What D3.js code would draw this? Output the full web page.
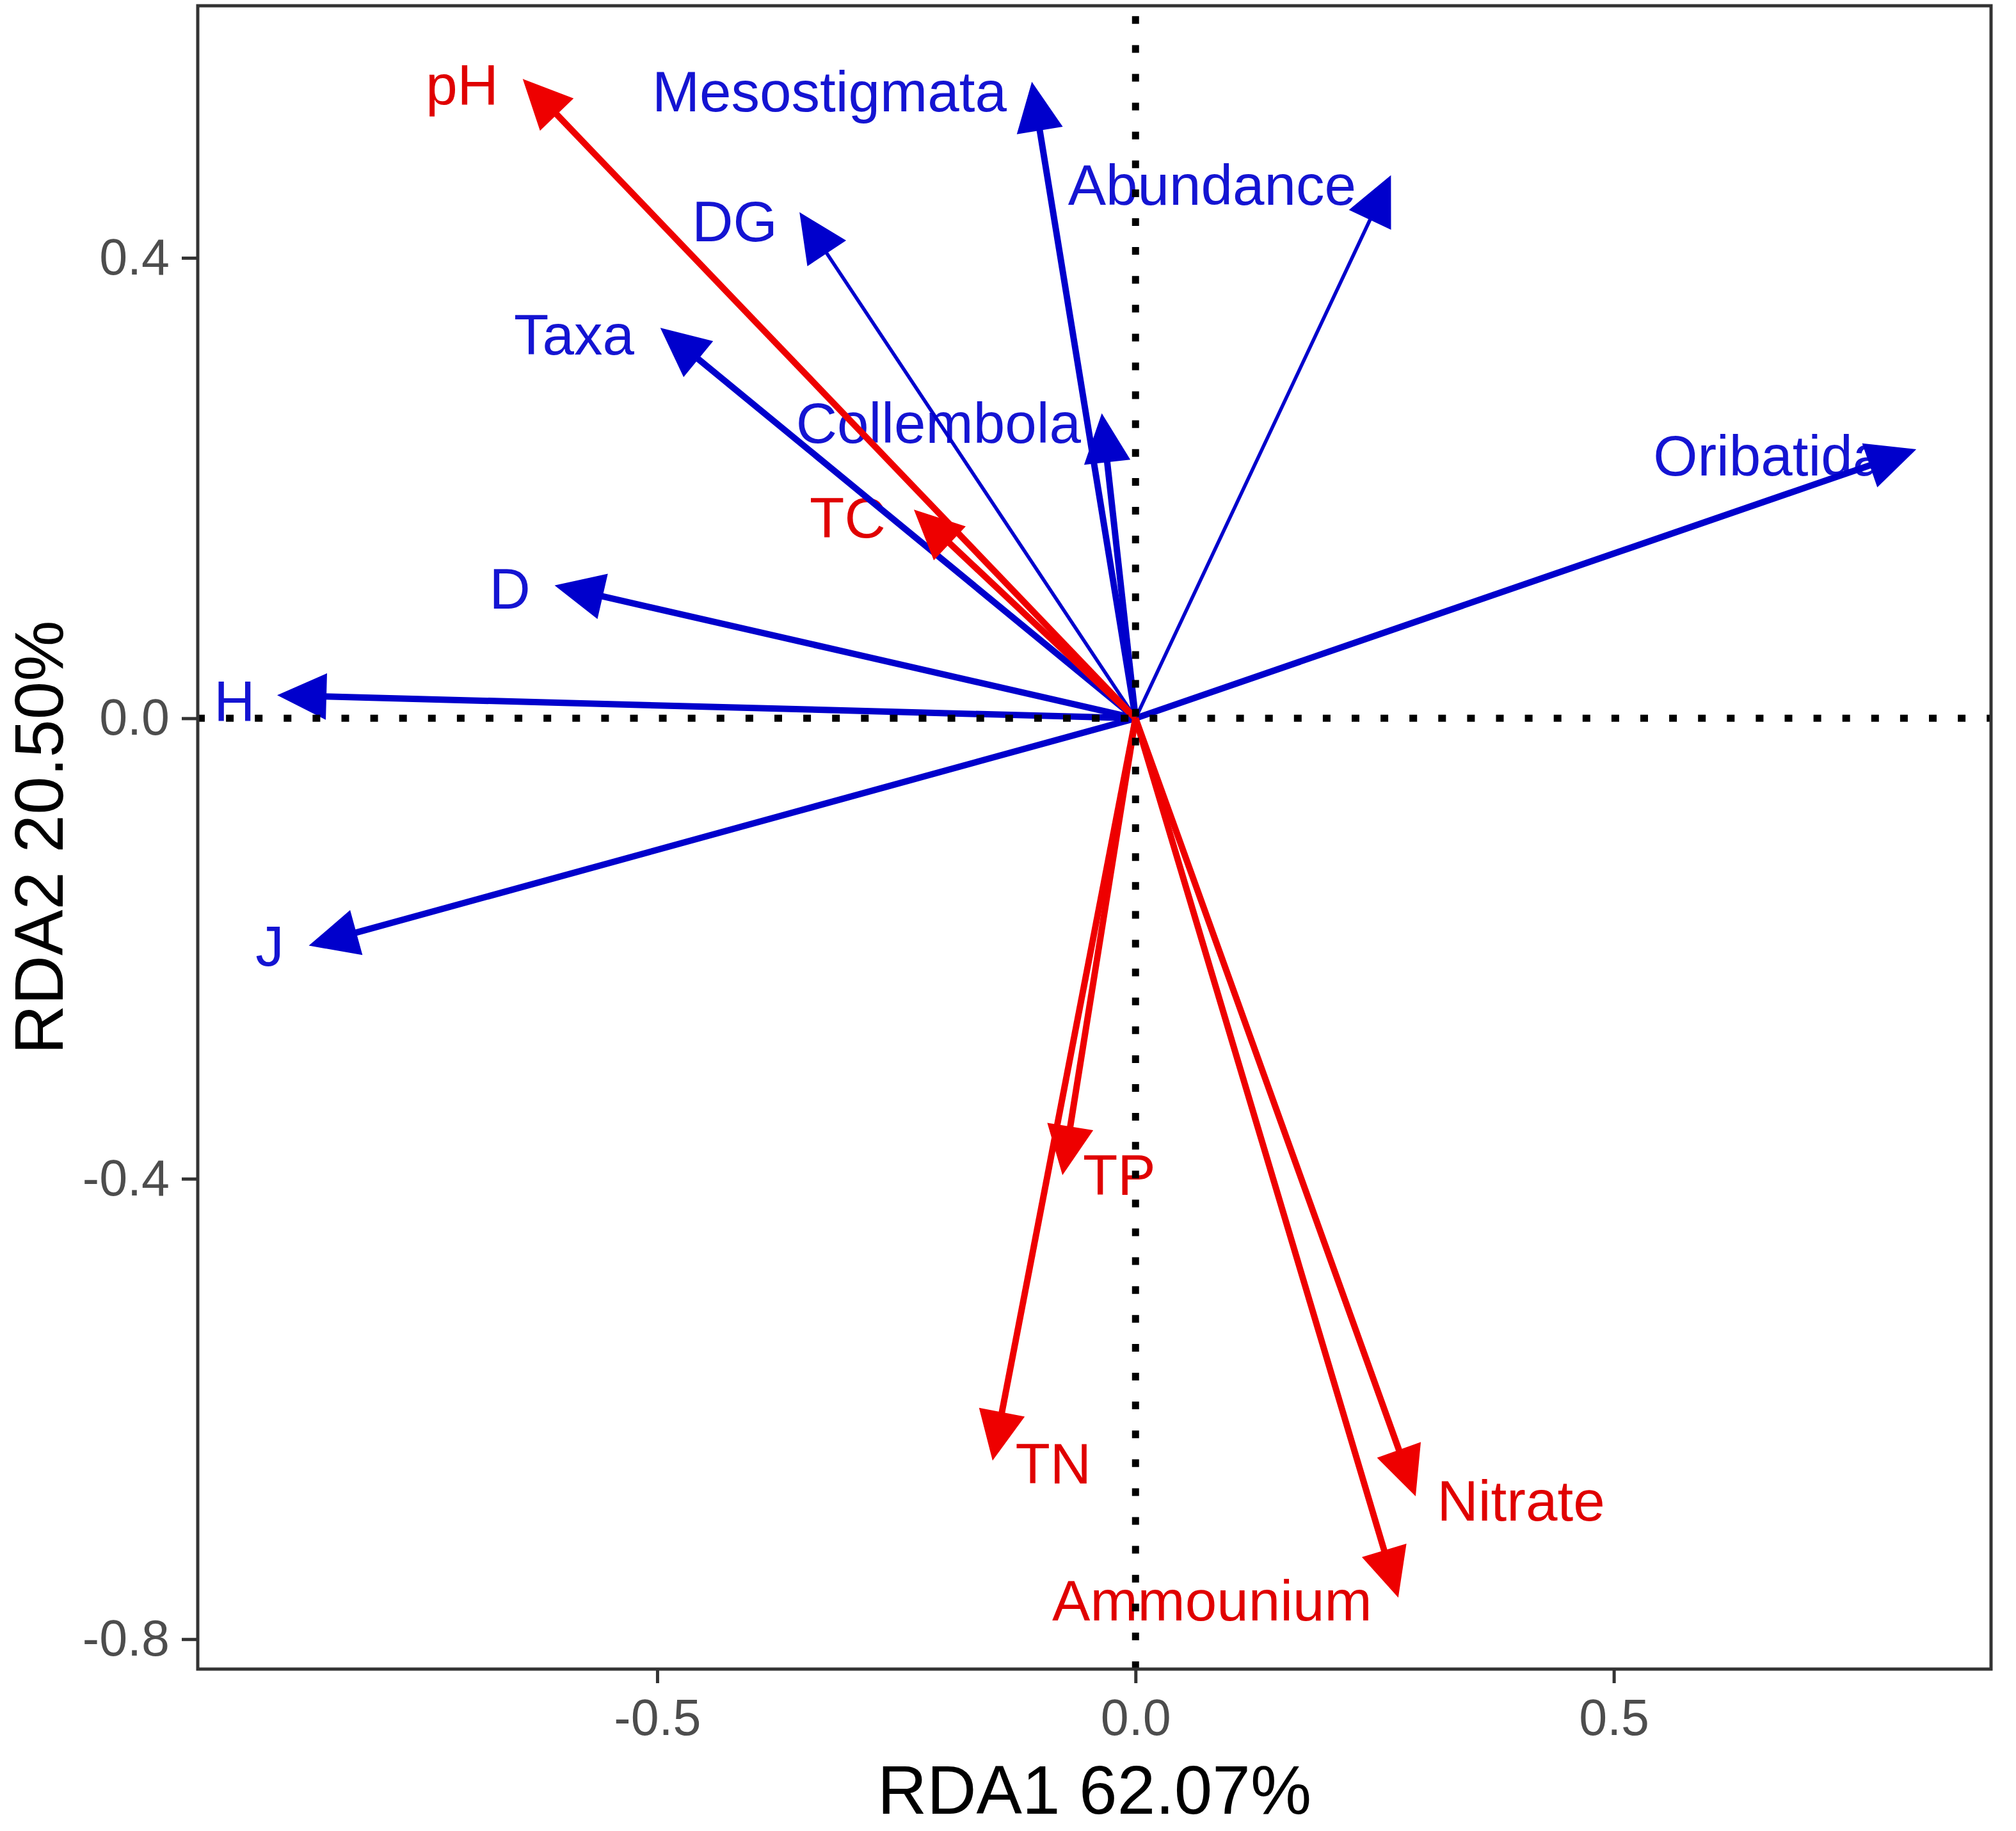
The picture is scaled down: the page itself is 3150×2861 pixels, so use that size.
<!DOCTYPE html>
<html>
<head>
<meta charset="utf-8">
<script src="https://cdn.jsdelivr.net/npm/d3@7"></script>
<style>
  body { margin: 0; background: #fff; }
</style>
</head>
<body>
<svg id="chart"></svg>
<script>
// biotic variables (blue arrows)
var bioNames = ["Mesostigmata", "Abundance", "DG", "Taxa", "Collembola", "D", "H", "J", "Oribatida"]
var bioX = [-0.108, 0.266, -0.350, -0.495, -0.035, -0.605, -0.895, -0.862, 0.814]
var bioY = [0.551, 0.470, 0.438, 0.338, 0.263, 0.115, 0.020, -0.197, 0.233]
var bioLabX = [-0.320, 0.080, -0.419, -0.587, -0.206, -0.654, -0.942, -0.905, 0.662]
var bioLabY = [0.545, 0.464, 0.432, 0.334, 0.257, 0.113, 0.016, -0.197, 0.229]

// soil properties (red arrows)
var envNames = ["pH", "TC", "TP", "TN", "Nitrate", "Ammounium"]
var envX = [-0.639, -0.230, -0.076, -0.149, 0.292, 0.274]
var envY = [0.554, 0.180, -0.395, -0.643, -0.674, -0.762]
var envLabX = [-0.704, -0.301, -0.017, -0.086, 0.403, 0.080]
var envLabY = [0.551, 0.175, -0.396, -0.647, -0.679, -0.766]

var xTicks = [-0.5, 0, 0.5]
var yTicks = [-0.8, -0.4, 0, 0.4]
var xTitle = "RDA1 62.07%"
var yTitle = "RDA2 20.50%"

var thinArrows = ["DG", "Abundance"]

var W = 3150, H = 2861
var panel = { left: 309, right: 3111, top: 9, bottom: 2608 }
var font = "'Liberation Sans', Arial, sans-serif"

var svg = d3.select("#chart")
  .attr("width", W)
  .attr("height", H)

svg.append("rect")
  .attr("width", W).attr("height", H)
  .attr("fill", "#fff")

var x = d3.scaleLinear()
  .domain([-0.981, 0.895])
  .range([308, 3112])

var y = d3.scaleLinear()
  .domain([-0.826, 0.619])
  .range([2608, 9])

// axes
var xAxis = svg.append("g")
  .attr("transform", "translate(0," + panel.bottom + ")")
  .call(d3.axisBottom(x).tickValues(xTicks).tickFormat(d => d.toFixed(1))
    .tickSize(22).tickPadding(25))
var yAxis = svg.append("g")
  .attr("transform", "translate(" + panel.left + ",0)")
  .call(d3.axisLeft(y).tickValues(yTicks).tickFormat(d => d.toFixed(1))
    .tickSize(25).tickPadding(19))

svg.selectAll(".domain").remove()
svg.selectAll(".tick line").attr("stroke", "#333").attr("stroke-width", 5)
svg.selectAll(".tick text")
  .attr("fill", "#4D4D4D")
  .style("font-family", font)
  .style("font-size", "79px")

// axis titles
svg.append("text")
  .attr("x", (panel.left + panel.right) / 2)
  .attr("y", 2834)
  .attr("text-anchor", "middle")
  .style("font-family", font)
  .style("font-size", "107px")
  .text(xTitle)

svg.append("text")
  .attr("transform", "translate(98," + ((panel.top + panel.bottom) / 2) + ") rotate(-90)")
  .attr("text-anchor", "middle")
  .style("font-family", font)
  .style("font-size", "107px")
  .text(yTitle)

// build arrow rows
function rows(names, xs, ys, lx, ly, colour, textColour, w) {
  return names.map((n, i) => ({
    name: n, x: xs[i], y: ys[i], lx: lx[i], ly: ly[i],
    colour: colour, textColour: textColour,
    width: thinArrows.indexOf(n) >= 0 ? 5.5 : w
  }))
}
var bio = rows(bioNames, bioX, bioY, bioLabX, bioLabY, "#0000CC", "#1414D2", 10)
var env = rows(envNames, envX, envY, envLabX, envLabY, "#EE0000", "#E00000", 10)
var all = bio.concat(env)

var plot = svg.append("g")

// labels first, arrows drawn over them
plot.selectAll("text.lab")
  .data(all)
  .enter()
  .append("text")
  .attr("class", "lab")
  .attr("x", d => x(d.lx))
  .attr("y", d => y(d.ly))
  .attr("dy", "0.36em")
  .attr("text-anchor", "middle")
  .attr("fill", d => d.textColour)
  .style("font-family", font)
  .style("font-size", "89px")
  .text(d => d.name)

var headLen = 72, headHalf = 34
var x0 = x(0), y0 = y(0)

function geom(d) {
  var tx = x(d.x), ty = y(d.y)
  var dx = tx - x0, dy = ty - y0
  var len = Math.sqrt(dx * dx + dy * dy)
  var ux = dx / len, uy = dy / len
  var bx = tx - headLen * ux, by = ty - headLen * uy
  return { tx: tx, ty: ty, ux: ux, uy: uy, bx: bx, by: by }
}

var arrows = plot.selectAll("g.arrow")
  .data(all)
  .enter()
  .append("g")
  .attr("class", "arrow")

arrows.append("line")
  .attr("x1", x0)
  .attr("y1", y0)
  .attr("x2", d => { var g = geom(d); return g.bx + 6 * g.ux })
  .attr("y2", d => { var g = geom(d); return g.by + 6 * g.uy })
  .attr("stroke", d => d.colour)
  .attr("stroke-width", d => d.width)

arrows.append("path")
  .attr("d", d => {
    var g = geom(d)
    var nx = -g.uy, ny = g.ux
    return "M" + g.tx + "," + g.ty +
      "L" + (g.bx + headHalf * nx) + "," + (g.by + headHalf * ny) +
      "L" + (g.bx - headHalf * nx) + "," + (g.by - headHalf * ny) + "Z"
  })
  .attr("fill", d => d.colour)
  .attr("stroke", d => d.colour)
  .attr("stroke-width", 3)

// reference lines at zero (dotted)
svg.append("line")
  .attr("x1", panel.left - 1).attr("x2", panel.right)
  .attr("y1", y(0)).attr("y2", y(0))
  .attr("stroke", "#000")
  .attr("stroke-width", 11)
  .attr("stroke-dasharray", "12 33.1")

svg.append("line")
  .attr("x1", x(0)).attr("x2", x(0))
  .attr("y1", panel.bottom).attr("y2", panel.top)
  .attr("stroke", "#000")
  .attr("stroke-width", 11)
  .attr("stroke-dasharray", "12 33.1")

// panel border
svg.append("rect")
  .attr("x", panel.left)
  .attr("y", panel.top)
  .attr("width", panel.right - panel.left)
  .attr("height", panel.bottom - panel.top)
  .attr("fill", "none")
  .attr("stroke", "#333")
  .attr("stroke-width", 5)
</script>
</body>
</html>
